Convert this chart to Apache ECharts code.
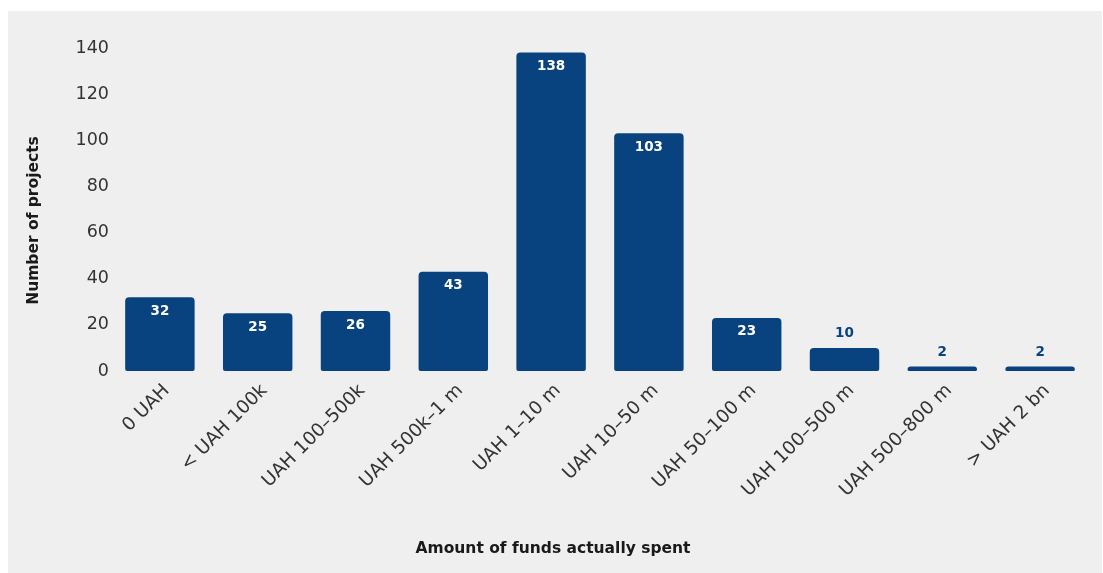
<!DOCTYPE html>
<html>
<head>
<meta charset="utf-8">
<style>
  html, body { margin: 0; padding: 0; background: #ffffff; }
  #frame { position: absolute; left: 8px; top: 11px; width: 1094px; height: 562px; background: #efefef; }
  #chart { position: absolute; left: 0; top: 0; width: 1103px; height: 573px; }
</style>
<script src="https://cdn.jsdelivr.net/npm/echarts@6/dist/echarts.min.js"></script>
</head>
<body>
<div id="frame"></div>
<div id="chart"></div>
<script>
const categories = ['0 UAH', '< UAH 100k', 'UAH 100–500k', 'UAH 500k–1 m', 'UAH 1–10 m',
  'UAH 10–50 m', 'UAH 50–100 m', 'UAH 100–500 m', 'UAH 500–800 m', '> UAH 2 bn'];
const projects = [32, 25, 26, 43, 138, 103, 23, 10, 2, 2];
const yTicks = [0, 20, 40, 60, 80, 100, 120, 140];

const navy = '#08437f';
const font = '"DejaVu Sans", "Noto Sans", sans-serif';

const chart = echarts.init(document.getElementById('chart'), null, { renderer: 'canvas' });

// short bars carry their value above the bar, the rest inside near the top
const barData = projects.map(v => v > 15 ? { value: v } : {
  value: v,
  label: { position: 'top', color: navy, distance: 7 }
});

chart.setOption({
  backgroundColor: 'transparent',
  animation: false,
  grid: { left: 111, right: 14, top: 48, bottom: 202 },
  xAxis: {
    type: 'category',
    data: categories,
    axisLine: { show: false },
    axisTick: { show: false },
    axisLabel: {
      rotate: 45, margin: 10, interval: 0, verticalAlign: 'top',
      color: '#333333', fontSize: 18.5, fontFamily: font
    },
    name: 'Amount of funds actually spent',
    nameLocation: 'middle',
    nameGap: 170,
    nameTextStyle: {
      color: '#1a1a1a', fontSize: 15.5, fontWeight: 'bold', fontFamily: font,
      padding: [0, 94, 0, 0]
    }
  },
  yAxis: {
    type: 'value',
    min: yTicks[0], max: yTicks[yTicks.length - 1], interval: 20,
    axisLine: { show: false },
    axisTick: { show: false },
    splitLine: { show: false },
    axisLabel: { color: '#333333', fontSize: 17.5, fontFamily: font, margin: 2 },
    name: 'Number of projects',
    nameLocation: 'middle',
    nameGap: 69,
    nameTextStyle: { color: '#1a1a1a', fontSize: 15.5, fontWeight: 'bold', fontFamily: font, padding: [0, 0, 0, -22] }
  },
  series: [{
    type: 'bar',
    data: barData,
    barCategoryGap: '29%',
    itemStyle: { color: navy, borderRadius: [4, 4, 2, 2] },
    label: {
      show: true, position: 'insideTop', distance: 7,
      color: '#ffffff', fontSize: 13.5, fontWeight: 'bold', fontFamily: font
    }
  }]
});
</script>
</body>
</html>
